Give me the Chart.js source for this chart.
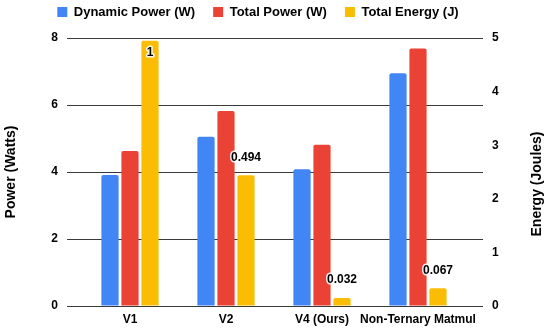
<!DOCTYPE html>
<html>
<head>
<meta charset="utf-8">
<script src="https://cdn.jsdelivr.net/npm/chart.js@4.4.1/dist/chart.umd.min.js"></script>
<style>
  html, body { margin: 0; padding: 0; background: #fff; }
  #wrap { width: 550px; height: 331px; }
</style>
</head>
<body>
<div id="wrap"><canvas id="myChart"></canvas></div>
<script>
const categories = ['V1', 'V2', 'V4 (Ours)', 'Non-Ternary Matmul'];
const dynamicPower = [3.91, 5.05, 4.08, 6.95];
const totalPower = [4.63, 5.82, 4.81, 7.69];
const totalEnergy = [4.95, 2.44, 0.15, 0.33];
const energyLabels = ['1', '0.494', '0.032', '0.067'];
const powerTicks = [0, 2, 4, 6, 8];
const energyTicks = [0, 1, 2, 3, 4, 5];

const FONT = "'Liberation Sans', Arial, sans-serif";
Chart.defaults.font.family = FONT;
Chart.defaults.color = '#000';

// gridlines run a bit past the plot on both sides
const gridPlugin = {
  id: 'wideGrid',
  beforeDatasetsDraw(chart) {
    const { ctx, chartArea, scales } = chart;
    ctx.save();
    ctx.strokeStyle = '#3a3a3a';
    ctx.lineWidth = 1;
    powerTicks.forEach(t => {
      const y = Math.round(scales.y.getPixelForValue(t)) + 0.5;
      ctx.beginPath();
      ctx.moveTo(chartArea.left - 15, y);
      ctx.lineTo(chartArea.right + 17, y);
      ctx.stroke();
    });
    ctx.restore();
  }
};

const labelPlugin = {
  id: 'energyLabels',
  afterDatasetsDraw(chart) {
    const { ctx, chartArea } = chart;
    const meta = chart.getDatasetMeta(2);
    ctx.save();
    ctx.font = 'bold 12px ' + FONT;
    ctx.textAlign = 'center';
    ctx.textBaseline = 'middle';
    ctx.lineJoin = 'round';
    meta.data.forEach((bar, i) => {
      const y = Math.max(bar.y - 18, chartArea.top + 15);
      ctx.strokeStyle = 'rgba(255,255,255,0.9)';
      ctx.lineWidth = 3;
      ctx.strokeText(energyLabels[i], bar.x, y);
      ctx.fillStyle = '#000';
      ctx.fillText(energyLabels[i], bar.x, y);
    });
    ctx.restore();
  }
};

// right title reads bottom-to-top like the left one
const rightTitle = {
  id: 'rightTitle',
  afterDraw(chart) {
    const { ctx, chartArea } = chart;
    ctx.save();
    ctx.translate(537, (chartArea.top + chartArea.bottom) / 2 + 12);
    ctx.rotate(-Math.PI / 2);
    ctx.font = 'bold 14px ' + FONT;
    ctx.textAlign = 'center';
    ctx.textBaseline = 'middle';
    ctx.fillStyle = '#000';
    ctx.fillText('Energy (Joules)', 0, 0);
    ctx.restore();
  }
};

// legend sits a little left of centre and close to the top edge
const legendShift = {
  id: 'legendShift',
  afterLayout(chart) {
    const lg = chart.legend;
    const h = lg.bottom - lg.top;
    lg.left -= 17;
    lg.right -= 17;
    lg.top = -12.5;
    lg.bottom = lg.top + h;
  }
};

const barOpts = { categoryPercentage: 0.625, barPercentage: 0.86, borderRadius: { topLeft: 2, topRight: 2 }, borderSkipped: 'bottom' };
// invisible tick marks push labels sideways without adding vertical padding
const hiddenTicks = len => ({ display: true, drawOnChartArea: false, drawTicks: true, tickLength: len, tickColor: 'rgba(0,0,0,0)' });

new Chart(document.getElementById('myChart').getContext('2d'), {
  type: 'bar',
  data: {
    labels: categories,
    datasets: [
      { label: 'Dynamic Power (W)', data: dynamicPower, backgroundColor: '#4285F4', yAxisID: 'y', ...barOpts },
      { label: 'Total Power (W)', data: totalPower, backgroundColor: '#EA4335', yAxisID: 'y', ...barOpts },
      { label: 'Total Energy (J)', data: totalEnergy, backgroundColor: '#FBBC04', yAxisID: 'y1', ...barOpts }
    ]
  },
  options: {
    responsive: true,
    maintainAspectRatio: false,
    animation: false,
    layout: { padding: { top: -3, left: 0, right: 0, bottom: 0 } },
    plugins: {
      tooltip: { enabled: false },
      legend: {
        position: 'top',
        labels: {
          boxWidth: 10,
          boxHeight: 10,
          padding: 18,
          font: { size: 13, weight: 'bold' },
          color: '#000'
        }
      }
    },
    scales: {
      x: {
        grid: { display: false, drawTicks: false },
        border: { display: false },
        ticks: { padding: 6, font: { size: 12, weight: 'bold' }, color: '#000', maxRotation: 0, autoSkip: false },
        afterFit: s => { s.height = 25; }
      },
      y: {
        position: 'left',
        min: 0,
        max: 8,
        grid: hiddenTicks(22),
        border: { display: false },
        ticks: { stepSize: 2, padding: 2, font: { size: 12, weight: 'bold' }, color: '#000' },
        title: { display: true, text: 'Power (Watts)', font: { size: 14, weight: 'bold' }, color: '#000', padding: { top: 3, bottom: 0 } },
        afterFit: s => { s.width = 82; }
      },
      y1: {
        position: 'right',
        min: 0,
        max: 5,
        grid: hiddenTicks(24),
        border: { display: false },
        ticks: { stepSize: 1, padding: 2, font: { size: 12, weight: 'bold' }, color: '#000' },
        title: { display: false },
        afterFit: s => { s.width = 84; }
      }
    }
  },
  plugins: [gridPlugin, labelPlugin, rightTitle, legendShift]
});
</script>
</body>
</html>
